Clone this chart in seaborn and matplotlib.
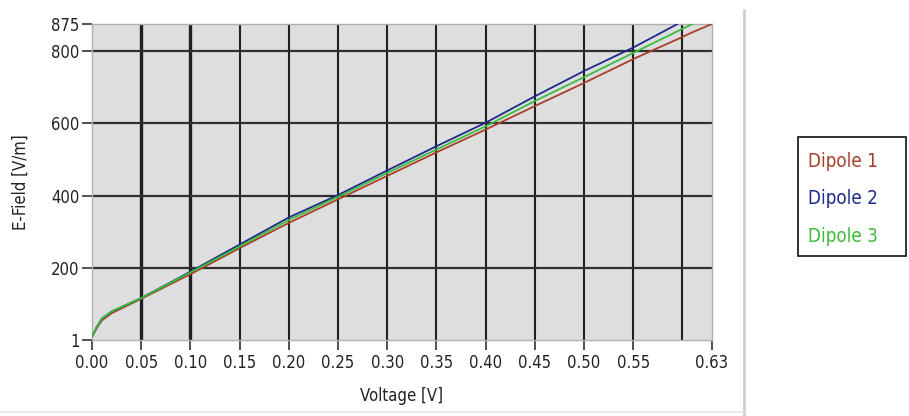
import numpy as np
import pandas as pd
import matplotlib
matplotlib.use("Agg")
import matplotlib.pyplot as plt
from matplotlib.lines import Line2D
from matplotlib.patches import Rectangle
import seaborn as sns

# values
voltage = [0.00, 0.005, 0.01, 0.02, 0.05, 0.10, 0.15, 0.20, 0.25, 0.30,
           0.35, 0.40, 0.45, 0.50, 0.55, 0.595, 0.61, 0.63]
dipole_1 = [10, 35, 55, 75, 115, 183, 255, 325, 390, 455,
            520, 583, 648, 712, 778, 833, 852, 875]
dipole_2 = [10, 38, 60, 80, 117, 190, 265, 340, 402, 470,
            537, 602, 675, 745, 810, 875, np.nan, np.nan]
dipole_3 = [10, 38, 60, 80, 117, 188, 260, 333, 397, 463,
            528, 592, 662, 728, 795, 855, 875, np.nan]
series_names = ["Dipole 1", "Dipole 2", "Dipole 3"]
series_colors = ["#a8402a", "#1e2a8a", "#3cbc3c"]

x_ticks = [0.00, 0.05, 0.10, 0.15, 0.20, 0.25, 0.30, 0.35, 0.40, 0.45, 0.50, 0.55, 0.63]
x_grid = [0.05, 0.10, 0.15, 0.20, 0.25, 0.30, 0.35, 0.40, 0.45, 0.50, 0.55, 0.60]
y_ticks = [1, 200, 400, 600, 800, 875]
y_grid = [200, 400, 600, 800]

df = pd.DataFrame({
    "Voltage": voltage * 3,
    "E-Field": dipole_1 + dipole_2 + dipole_3,
    "Series": sum([[n] * len(voltage) for n in series_names], []),
}).dropna()

sns.set_style("white")
plt.rcParams["font.family"] = ["DejaVu Sans"]
plt.rcParams["font.stretch"] = "condensed"

fig = plt.figure(figsize=(9.09, 4.16), dpi=100)
ax = fig.add_axes([92 / 909, 1 - 340 / 416, 620 / 909, 316 / 416])
ax.set_facecolor("#dedede")

# grid lines first so the traces sit above them
for xv in x_grid:
    lw = 2.4 if xv in (0.05, 0.10) else 1.5
    ax.axvline(xv, color="#202020", lw=lw, zorder=1)
for yv in y_grid:
    ax.axhline(yv, color="#303030", lw=1.6, zorder=1)

sns.lineplot(data=df, x="Voltage", y="E-Field", hue="Series",
             palette=dict(zip(series_names, series_colors)),
             linewidth=1.3, legend=False, ax=ax, zorder=3)

ax.set_xlim(0, 0.63)
ax.set_ylim(1, 875)
ax.set_xticks(x_ticks)
ax.set_xticklabels([f"{v:.2f}" for v in x_ticks])
ax.set_yticks(y_ticks)
ax.set_yticklabels([str(v) for v in y_ticks])
ax.tick_params(axis="both", direction="out", length=7, width=1.2,
               color="#333333", labelsize=12, labelcolor="#222222",
               bottom=True, left=True)
ax.tick_params(axis="x", pad=3)
ax.tick_params(axis="y", pad=2)
for s in ax.spines.values():
    s.set_color("#b0b0b0")
    s.set_linewidth(1)

ax.set_xlabel("Voltage [V]", fontsize=12, color="#222222", labelpad=11)
ax.set_ylabel("E-Field [V/m]", fontsize=12, color="#222222")
ax.yaxis.set_label_coords((30 - 92) / 620, 0.5)

# panel separators
fig.add_artist(Line2D([744 / 909, 744 / 909], [0, 1 - 10 / 416],
                      color="#cfcfcf", lw=2))
fig.add_artist(Line2D([0, 744 / 909], [1 - 412 / 416, 1 - 412 / 416],
                      color="#e6e6e6", lw=1.2))

# legend box: coloured names only, no handles
fig.add_artist(Rectangle((798 / 909, 1 - 256 / 416), 108 / 909, 119 / 416,
                         transform=fig.transFigure, facecolor="white",
                         edgecolor="#222222", lw=1.3))
for i, (name, col) in enumerate(zip(series_names, series_colors)):
    fig.text(808 / 909, 1 - (162 + 37 * i) / 416, name, color=col,
             fontsize=13.5, ha="left", va="center")

fig.savefig("out.png", dpi=100)
